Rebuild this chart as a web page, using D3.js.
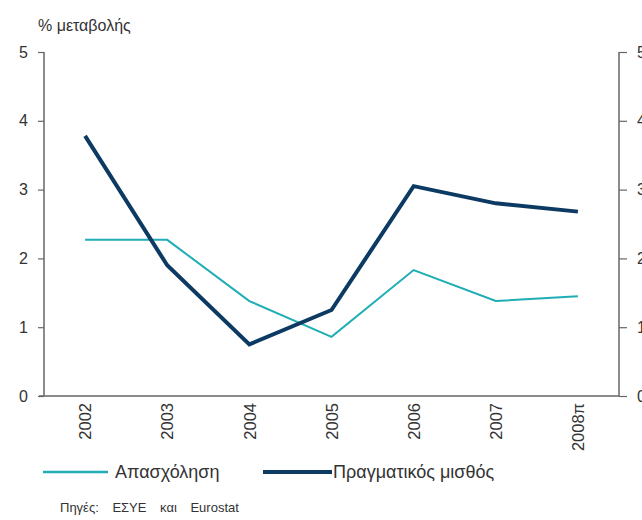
<!DOCTYPE html>
<html><head><meta charset="utf-8">
<script src="https://cdn.jsdelivr.net/npm/d3@7"></script>
<style>
body{margin:0;background:#fff;}
text{font-family:"Liberation Sans",Arial,sans-serif;fill:#333;}
</style></head>
<body><svg id="c" width="642" height="520"></svg>
<script>
const years = ["2002","2003","2004","2005","2006","2007","2008π"];
const employment = [2.27, 2.27, 1.38, 0.86, 1.83, 1.38, 1.45];
const realWage = [3.78, 1.9, 0.75, 1.25, 3.05, 2.8, 2.68];
const yTicks = [0,1,2,3,4,5];
const seriesNames = ["Απασχόληση","Πραγματικός μισθός"];
const yLabel = "% μεταβολής";
const source = "Πηγές: ΕΣΥΕ και Eurostat";

const svg = d3.select("#c");
const L = 44, R = 619, T = 52, B = 396;
const x = d3.scalePoint().domain(years).range([L, R]).padding(0.5);
const y = d3.scaleLinear().domain([0,5]).range([B, T]);
const axisCol = "#666";
const teal = "#1fadb6", navy = "#0c3a63";

// left axis
const gl = svg.append("g").attr("transform",`translate(${L},0)`)
  .call(d3.axisLeft(y).tickValues(yTicks).tickSize(6).tickPadding(10).tickFormat(d3.format("d")));
// right axis
const gr = svg.append("g").attr("transform",`translate(${R},0)`)
  .call(d3.axisRight(y).tickValues(yTicks).tickSize(8).tickPadding(10).tickFormat(d3.format("d")));
[gl,gr].forEach(g=>{
  g.select(".domain").attr("stroke",axisCol).attr("stroke-width",1.5).attr("d",`M0,${T}V${B}`);
  g.selectAll(".tick line").attr("stroke",axisCol).attr("stroke-width",1.2);
  g.selectAll("text").style("font-size","16px").attr("fill","#333");
});
// bottom axis
const gx = svg.append("g").attr("transform",`translate(0,${B})`)
  .call(d3.axisBottom(x).tickSize(0).tickPadding(8));
gx.select(".domain").attr("stroke",axisCol).attr("stroke-width",1.5).attr("d",`M${L-5},0H${R}`);
gx.selectAll("text").style("font-size","16.5px").attr("fill","#333")
  .attr("text-anchor","end").attr("transform","rotate(-90)")
  .attr("x",-7).attr("y",0).attr("dy","0.35em");

svg.append("text").attr("x",38).attr("y",31).style("font-size","16px").text(yLabel);

const line = d3.line().x((d,i)=>x(years[i])).y(d=>y(d));
svg.append("path").datum(employment).attr("d",line).attr("fill","none")
  .attr("stroke",teal).attr("stroke-width",2);
svg.append("path").datum(realWage).attr("d",line).attr("fill","none")
  .attr("stroke",navy).attr("stroke-width",4).attr("stroke-linejoin","miter");

// legend
const leg = [{x1:43,x2:108,tx:115,c:teal,w:2.5},{x1:263,x2:332,tx:333,c:navy,w:4}];
leg.forEach((l,i)=>{
  svg.append("line").attr("x1",l.x1).attr("x2",l.x2).attr("y1",472).attr("y2",472)
    .attr("stroke",l.c).attr("stroke-width",l.w);
  svg.append("text").attr("x",l.tx).attr("y",478).style("font-size","18px").text(seriesNames[i]);
});
svg.append("text").attr("x",60).attr("y",512).style("font-size","13px")
  .style("word-spacing","10px").text(source);
</script></body></html>
